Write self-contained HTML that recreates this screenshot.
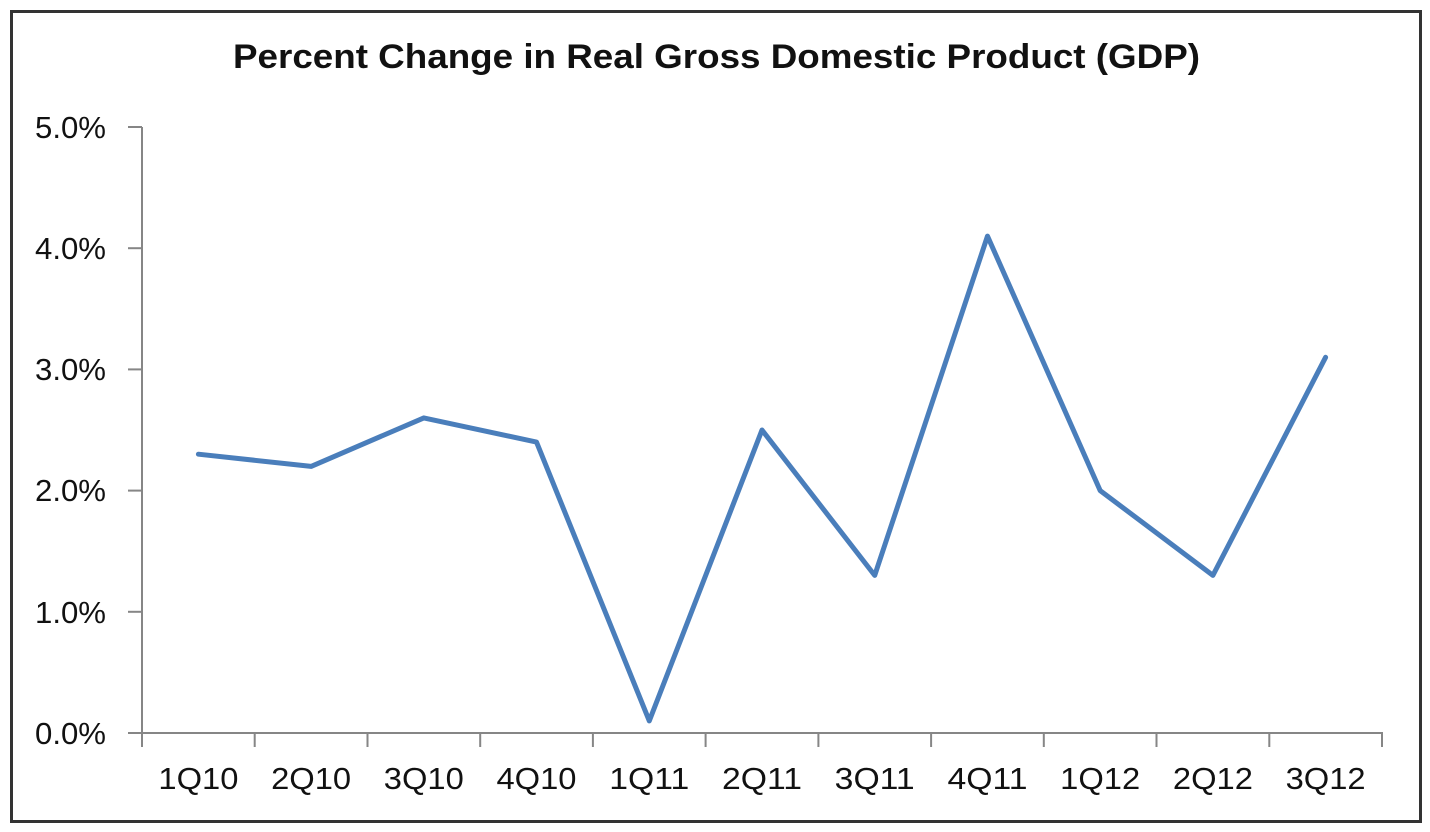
<!DOCTYPE html>
<html>
<head>
<meta charset="utf-8">
<style>
html,body{margin:0;padding:0;background:#fff;}
svg{display:block;}
</style>
</head>
<body>
<svg width="1430" height="832" viewBox="0 0 1430 832" xmlns="http://www.w3.org/2000/svg">
  <rect x="0" y="0" width="1430" height="832" fill="#fff"/>
  <rect x="11.5" y="11.5" width="1409" height="810" fill="#fff" stroke="#333" stroke-width="3"/>
  <text x="233" y="68" font-family="Liberation Sans, sans-serif" font-weight="bold" font-size="34" fill="#111" textLength="967" lengthAdjust="spacingAndGlyphs">Percent Change in Real Gross Domestic Product (GDP)</text>

  <g stroke="#868686" stroke-width="2" fill="none">
    <line x1="142" y1="127" x2="142" y2="747"/>
    <line x1="128" y1="733" x2="1383" y2="733"/>
    <line x1="128" y1="127" x2="142" y2="127"/>
    <line x1="128" y1="248.2" x2="142" y2="248.2"/>
    <line x1="128" y1="369.4" x2="142" y2="369.4"/>
    <line x1="128" y1="490.6" x2="142" y2="490.6"/>
    <line x1="128" y1="611.8" x2="142" y2="611.8"/>
    <line x1="254.7" y1="733" x2="254.7" y2="747"/>
    <line x1="367.5" y1="733" x2="367.5" y2="747"/>
    <line x1="480.2" y1="733" x2="480.2" y2="747"/>
    <line x1="592.9" y1="733" x2="592.9" y2="747"/>
    <line x1="705.6" y1="733" x2="705.6" y2="747"/>
    <line x1="818.4" y1="733" x2="818.4" y2="747"/>
    <line x1="931.1" y1="733" x2="931.1" y2="747"/>
    <line x1="1043.8" y1="733" x2="1043.8" y2="747"/>
    <line x1="1156.5" y1="733" x2="1156.5" y2="747"/>
    <line x1="1269.3" y1="733" x2="1269.3" y2="747"/>
    <line x1="1382" y1="733" x2="1382" y2="747"/>
  </g>

  <g font-family="Liberation Sans, sans-serif" font-size="31" fill="#111" text-anchor="end">
    <text x="106" y="138" textLength="71" lengthAdjust="spacingAndGlyphs">5.0%</text>
    <text x="106" y="259" textLength="71" lengthAdjust="spacingAndGlyphs">4.0%</text>
    <text x="106" y="380" textLength="71" lengthAdjust="spacingAndGlyphs">3.0%</text>
    <text x="106" y="501" textLength="71" lengthAdjust="spacingAndGlyphs">2.0%</text>
    <text x="106" y="623" textLength="71" lengthAdjust="spacingAndGlyphs">1.0%</text>
    <text x="106" y="744" textLength="71" lengthAdjust="spacingAndGlyphs">0.0%</text>
  </g>

  <g font-family="Liberation Sans, sans-serif" font-size="31" fill="#111" text-anchor="middle">
    <text x="198.4" y="789" textLength="80" lengthAdjust="spacingAndGlyphs">1Q10</text>
    <text x="311.1" y="789" textLength="80" lengthAdjust="spacingAndGlyphs">2Q10</text>
    <text x="423.8" y="789" textLength="80" lengthAdjust="spacingAndGlyphs">3Q10</text>
    <text x="536.5" y="789" textLength="80" lengthAdjust="spacingAndGlyphs">4Q10</text>
    <text x="649.3" y="789" textLength="80" lengthAdjust="spacingAndGlyphs">1Q11</text>
    <text x="762" y="789" textLength="80" lengthAdjust="spacingAndGlyphs">2Q11</text>
    <text x="874.7" y="789" textLength="80" lengthAdjust="spacingAndGlyphs">3Q11</text>
    <text x="987.5" y="789" textLength="80" lengthAdjust="spacingAndGlyphs">4Q11</text>
    <text x="1100.2" y="789" textLength="80" lengthAdjust="spacingAndGlyphs">1Q12</text>
    <text x="1212.9" y="789" textLength="80" lengthAdjust="spacingAndGlyphs">2Q12</text>
    <text x="1325.6" y="789" textLength="80" lengthAdjust="spacingAndGlyphs">3Q12</text>
  </g>

  <polyline fill="none" stroke="#4a7ebb" stroke-width="5" stroke-linejoin="round" stroke-linecap="round"
    points="198.4,454.2 311.1,466.4 423.8,417.9 536.5,442.1 649.3,720.9 762,430 874.7,575.4 987.5,236.1 1100.2,490.6 1212.9,575.4 1325.6,357.3"/>
</svg>
</body>
</html>
